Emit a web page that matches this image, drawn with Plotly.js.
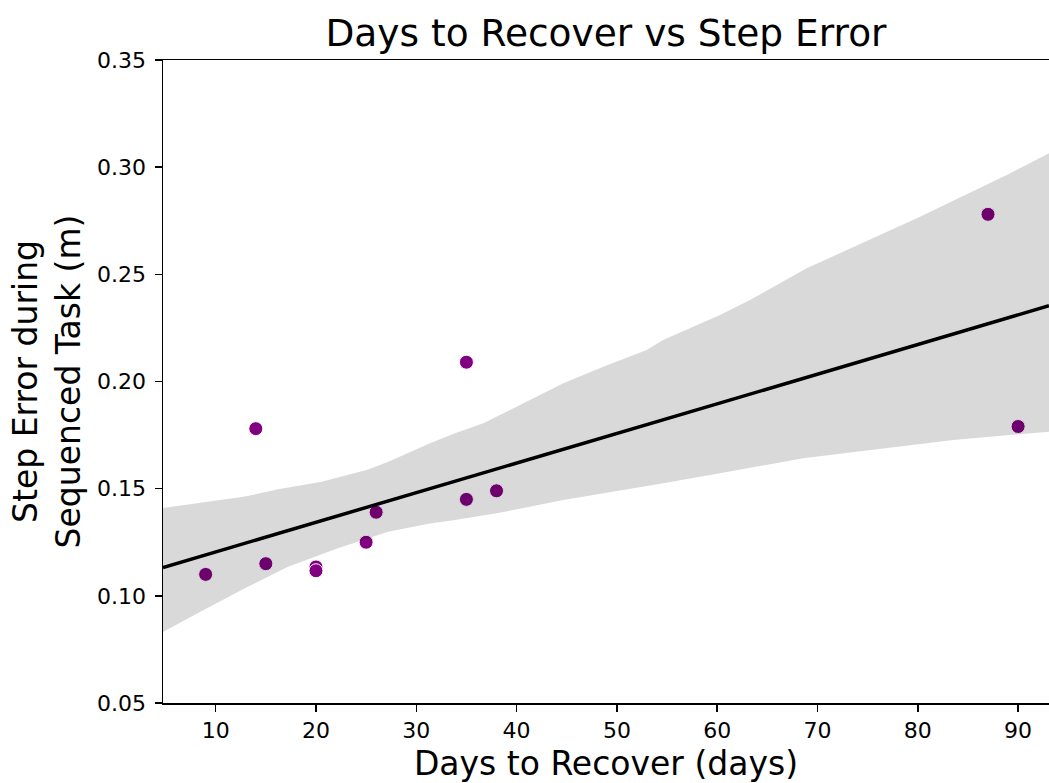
<!DOCTYPE html>
<html>
<head>
<meta charset="utf-8">
<script src="https://cdn.plot.ly/plotly-3.0.1.min.js"></script>
<style>
  html, body { margin: 0; padding: 0; background: #ffffff; }
  #chart { width: 1049px; height: 783px; }
</style>
</head>
<body>
<div id="chart"></div>
<script>
// Recovery time (days) and mean step error (m) per participant
const daysToRecover = [9, 14, 15, 20, 20, 25, 26, 35, 35, 38, 87, 90];
const stepError = [0.110, 0.178, 0.115, 0.1135, 0.1117, 0.125, 0.139, 0.209, 0.145, 0.149, 0.278, 0.179];

// Bootstrapped 95% confidence band of the fit: upper and lower edges
const bandUpperX = [4.75, 12.92, 16.24, 20.57, 25.21, 27.21, 31.37, 33.86, 36.68, 44.66, 48.64, 52.97, 54.60, 60.28, 63.27, 68.92, 80.22, 88.86, 93.08];
const bandUpperY = [0.1410, 0.1463, 0.1497, 0.1532, 0.1590, 0.1626, 0.1712, 0.1758, 0.1805, 0.1992, 0.2069, 0.2147, 0.2194, 0.2310, 0.2380, 0.2528, 0.2769, 0.2963, 0.3065];
const bandLowerX = [4.75, 8.24, 12.92, 17.21, 22.19, 27.18, 31.37, 33.86, 38.02, 44.66, 54.63, 60.28, 68.58, 76.90, 83.54, 93.08];
const bandLowerY = [0.0831, 0.0920, 0.1035, 0.1136, 0.1222, 0.1299, 0.1338, 0.1354, 0.1385, 0.1447, 0.1525, 0.1572, 0.1642, 0.1688, 0.1727, 0.1766];

// Axis settings
const xRange = [4.75, 93.08];
const yRange = [0.05, 0.35];
const xTicks = [10, 20, 30, 40, 50, 60, 70, 80, 90];
const yTicks = [0.05, 0.10, 0.15, 0.20, 0.25, 0.30, 0.35];

// Ordinary least squares fit of step error on recovery days
function olsFit(xs, ys) {
  const n = xs.length;
  const mx = xs.reduce((a, b) => a + b, 0) / n;
  const my = ys.reduce((a, b) => a + b, 0) / n;
  let sxy = 0, sxx = 0;
  for (let i = 0; i < n; i++) {
    sxy += (xs[i] - mx) * (ys[i] - my);
    sxx += (xs[i] - mx) * (xs[i] - mx);
  }
  const slope = sxy / sxx;
  return { slope: slope, intercept: my - slope * mx };
}
const fit = olsFit(daysToRecover, stepError);
const fitX = [xRange[0], xRange[1]];
const fitY = fitX.map(x => fit.intercept + fit.slope * x);

// Closed polygon for the confidence band
const bandX = bandUpperX.concat(bandLowerX.slice().reverse());
const bandY = bandUpperY.concat(bandLowerY.slice().reverse());

const FONT = 'DejaVu Sans, sans-serif';

// Scatter first, then the translucent band and the fitted line on top
const traces = [
  {
    x: daysToRecover, y: stepError, type: 'scatter', mode: 'markers',
    marker: { color: '#800080', size: 14, line: { color: '#ffffff', width: 1 } },
    showlegend: false
  },
  {
    x: bandX, y: bandY, type: 'scatter', mode: 'lines',
    fill: 'toself', fillcolor: 'rgba(0,0,0,0.15)',
    line: { width: 0 }, hoverinfo: 'skip', showlegend: false
  },
  {
    x: fitX, y: fitY, type: 'scatter', mode: 'lines',
    line: { color: '#000000', width: 3.5 },
    showlegend: false
  }
];

const layout = {
  width: 1049, height: 783,
  paper_bgcolor: '#ffffff', plot_bgcolor: '#ffffff',
  margin: { l: 163, r: 0, t: 60, b: 80 },
  font: { family: FONT, color: '#000000' },
  title: {
    text: 'Days to Recover vs Step Error',
    font: { family: FONT, size: 37.5, color: '#000000' },
    x: 0.5, xref: 'paper', xanchor: 'center',
    y: 1 - 33 / 783, yref: 'container', yanchor: 'middle'
  },
  xaxis: {
    range: xRange, tickvals: xTicks, ticktext: xTicks.map(String),
    showgrid: false, zeroline: false,
    showline: true, linecolor: '#000000', linewidth: 1.5, mirror: true,
    ticks: 'outside', ticklen: 7, tickwidth: 1.5, tickcolor: '#000000',
    tickfont: { family: FONT, size: 22, color: '#000000' },
    title: { text: 'Days to Recover (days)', font: { family: FONT, size: 33, color: '#000000' }, standoff: 10 }
  },
  yaxis: {
    range: yRange, tickvals: yTicks, ticktext: yTicks.map(v => v.toFixed(2)),
    showgrid: false, zeroline: false,
    showline: true, linecolor: '#000000', linewidth: 1.5,
    ticks: 'outside', ticklen: 7, tickwidth: 1.5, tickcolor: '#000000',
    ticklabelstandoff: 4,
    tickfont: { family: FONT, size: 22, color: '#000000' },
    title: { text: 'Step Error during<br>Sequenced Task (m)', font: { family: FONT, size: 33, color: '#000000' }, standoff: 6 }
  }
};

Plotly.newPlot('chart', traces, layout, { displayModeBar: false, staticPlot: true });
</script>
</body>
</html>
